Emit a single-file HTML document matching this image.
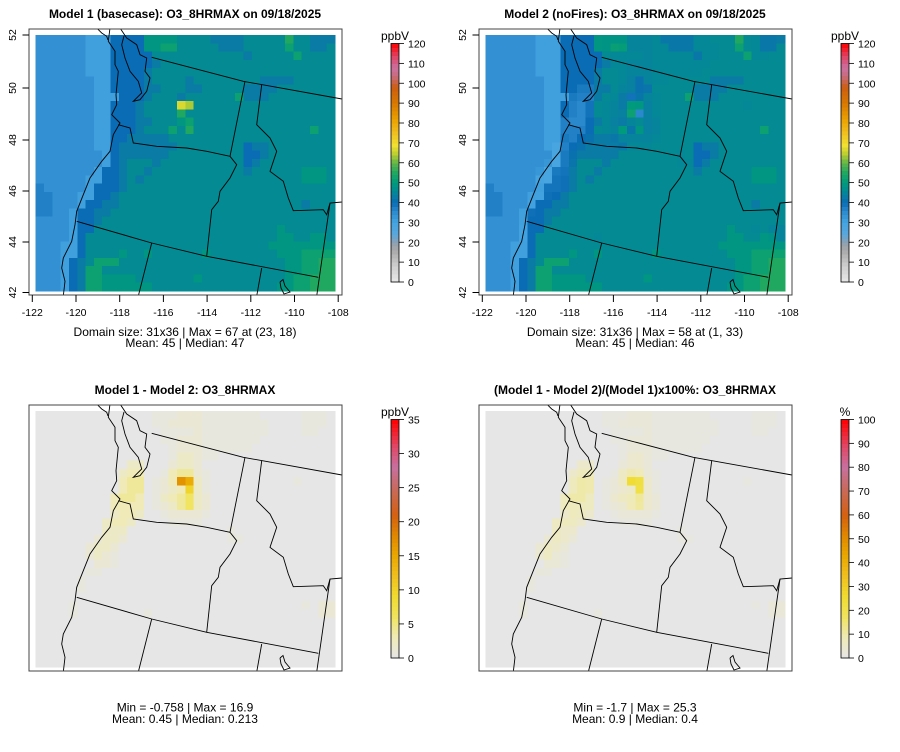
<!DOCTYPE html>
<html><head><meta charset="utf-8"><title>O3_8HRMAX comparison</title>
<style>
html,body{margin:0;padding:0;background:#fff;}
svg{display:block;font-family:"Liberation Sans",sans-serif;}
</style></head>
<body>
<svg id="fig" width="900" height="752" viewBox="0 0 900 752" xmlns="http://www.w3.org/2000/svg">
<rect width="900" height="752" fill="#fff"/>
</svg>
<script>
// ---- data: panel 1 (basecase) codes, value = 28 + 3*index in P1_KEYS
const P1_KEYS = "0123456789ABCD";
const p1Rows = [
"222222111444477776666555566666966555",
"222222111444477886666655566666866556",
"222222111444446666666666656666686666",
"222222111444445666666666666666666666",
"222222111444456666666666666666666666",
"222222211444456666566666666555566666",
"222222211444455666556666655556666666",
"222222211144456665666666855566666666",
"22222221144456666DC66666666666666666",
"222222211444566669666666666666666666",
"222222211444556667866666666666666666",
"222222211444566686966666666666666866",
"222222211445555566666666666666666666",
"222222211455555556666666645566666666",
"222222221455555566666666644566666666",
"222222221456665666666666645666666666",
"222222214456656666666666656666667776",
"222222114456566666666666666666667776",
"322222144456666666666666666666666666",
"332221144566666666666666666666666666",
"332221445566666666666666666666665666",
"332214455666666666666666666666666666",
"222214456666666666666666666666666666",
"222214466666666666666666666667666666",
"222214666666666666666666666667766776",
"222114666666666666666666666677777777",
"222114666676676666667666666667778888",
"222145688866666666666666666666778899",
"222145886666666666666666666666778899",
"222145887777666666676666666666788999",
"222145887777776666666666666667788999"
];
// ---- data: Model1 - Model2 difference codes
const DIFF_KEYS = "0123456789AB";
const diffLevels = [0,0.6,1.2,2,3,4,6,8,10,12,14.5,17];
const diffRows = [
"000000000000001112221111111000001110",
"000000000000001122221111111100001110",
"000000000000000111121111111100001100",
"000000000000000112221111111000000000",
"000000000000000012221111110000000000",
"000000000000000013321100000000000000",
"000000000003300023320000000000000000",
"000000000034400145521000000000000000",
"000000000045501244BA3100000000010000".replace("01244BA31","0124BA310"),
"000000000045501234831000000000000000",
"000000000455401345632000000000000000",
"000000000444401235632000000000000000",
"000000000344300122221000000000000000",
"000000003443000011110000000000000000",
"000000003330000000000001000000000000",
"000000023320000000000001100000000000",
"000000233200000000000000000000000000",
"000000232100000000000000000000000000",
"000000022100000000000000000000000000",
"000000110000000000000000000000000000",
"000001000000000000000000000000000000",
"000001000000000000000000000000000000",
"000000000000000000000000000000000000",
"000010000000000000000000000000001022",
"000010000000010000000000000000000022",
"000000000000000000000000000000000000",
"000000000000000000000000000000000000",
"000000000000000000000000000000000000",
"000000000000000000000000000000000000",
"000000000000000000000000000000000000",
"000000000000000000000000000000000000"
];
const xTickLabels = ["-122","-120","-118","-116","-114","-112","-110","-108"];
const yTickLabels = ["52","50","48","46","44","42"];
const cbTopLabels = [0,10,20,30,40,50,60,70,80,90,100,110,120];
const cbDiffLabels = [0,5,10,15,20,25,30,35];
const cbPctLabels = [0,10,20,30,40,50,60,70,80,90,100];

const NC = 36, NR = 31;
function decodeP1(){return p1Rows.map(r=>{const a=[];for(let c=0;c<NC;c++){const ch=r[Math.min(c,r.length-1)];a.push(28+3*Math.max(0,P1_KEYS.indexOf(ch)));}return a;});}
function decodeDiff(){return diffRows.map(r=>{const a=[];for(let c=0;c<NC;c++){const ch=r[Math.min(c,r.length-1)];a.push(diffLevels[Math.max(0,DIFF_KEYS.indexOf(ch))]);}return a;});}
const g1 = decodeP1();
const gd = decodeDiff();
const g2 = g1.map((row,r)=>row.map((v,c)=>v-gd[r][c]));
const g4 = g1.map((row,r)=>row.map((v,c)=>gd[r][c]/v*100));

function hex(h){return [parseInt(h.slice(1,3),16),parseInt(h.slice(3,5),16),parseInt(h.slice(5,7),16)];}
function makePal(stops){const s=stops.map(([v,c])=>[v,hex(c)]);return function(v){
  if(v<=s[0][0])return `rgb(${s[0][1]})`;
  for(let i=1;i<s.length;i++){if(v<=s[i][0]){const t=(v-s[i-1][0])/(s[i][0]-s[i-1][0]);const a=s[i-1][1],b=s[i][1];
   return `rgb(${Math.round(a[0]+(b[0]-a[0])*t)},${Math.round(a[1]+(b[1]-a[1])*t)},${Math.round(a[2]+(b[2]-a[2])*t)})`;}}
  return `rgb(${s[s.length-1][1]})`;};}
const palTop = makePal([[0,'#e8e8e8'],[8,'#cfcfcf'],[16,'#a8a8a8'],[20,'#8fa0b0'],[24,'#5aa8dc'],[30,'#44a4e0'],[36,'#2a88cc'],[40,'#0a6cb4'],[44,'#0880a0'],[47,'#008f8c'],[50,'#009a7c'],[55,'#20a860'],[60,'#60b448'],[65,'#c0d030'],[69,'#f0e030'],[75,'#f0c020'],[82,'#eaa000'],[90,'#d97800'],[98,'#cc5e10'],[104,'#c86a80'],[108,'#cc70a0'],[114,'#e04060'],[120,'#ff0000']]);
const diffStops=[[0,'#e6e6e6'],[3,'#efeab8'],[6,'#f0e460'],[9,'#f0dc30'],[12,'#f0c020'],[15,'#eaa800'],[18,'#e08800'],[21,'#d56010'],[25,'#c86a60'],[28,'#c870a0'],[31,'#e04868'],[35,'#ff0000']];
const palDiff = makePal(diffStops);
const palPct = makePal(diffStops.map(([v,c])=>[v*100/35,c]));

const svg=document.getElementById('fig');
const NS="http://www.w3.org/2000/svg";
function el(tag,attrs,parent){const e=document.createElementNS(NS,tag);for(const k in attrs)e.setAttribute(k,attrs[k]);(parent||svg).appendChild(e);return e;}
function txt(s,attrs,parent){const e=el('text',attrs,parent);e.textContent=s;return e;}

// axis functions (panel-relative)
const X0=35.7, Y0=35, W=299.3, H=256;
const cw=W/NC, ch=H/NR;
const xCell=c=>X0+c*cw, yCell=r=>Y0+r*ch;

// map outlines (pixel coords in panel-1 frame)
const coast=[[110,28],[108.3,41.3],[115,51.3],[115,64.7],[118.3,71.3],[116,94.7],[116.7,104.7],[111.7,114.7],[120,123],[113.3,134.7],[110,151.3],[101.7,161.3],[90,178],[83.3,194.7],[76.7,211.3],[75,224.7],[71.7,241.3],[63.3,258],[61.7,268],[65,281.3],[63.3,296]];
const puget=[[120,28],[126.7,38],[136.7,44.7],[140,54.7],[146.7,58],[145,71.3],[150,78],[146.7,91.3],[140,99.7],[133.3,101.3],[141.7,93],[138.3,81.3],[130,71.3],[125,58],[121.7,44.7],[124,36]];
const vanIsl=[[96.7,28],[101.7,33],[106.7,36.3],[108,40]];
const canada=[[151.7,57.3],[243.3,81.3],[342,99]];
const waid=[[245,81.3],[230,156.3]];
const snake=[[230,156.3],[236.7,164.7],[230,178],[220,191.3],[218.3,201.3],[211.7,209.7],[206.7,256.3]];
const columbia=[[118.3,124.7],[130,128],[133.3,143],[156.7,146.3],[186.7,148],[206.7,151.3],[230,156.3]];
const idmt=[[261.7,84.7],[256.7,124.7],[270,138],[276.7,151.3],[270,171.3],[283.3,181.3],[288.3,198],[293.3,210.7],[323.3,209.7],[326.7,214.7],[330,203],[342,202]];
const wy=[[330,203],[316.7,296]];
const lat42=[[76.7,221.3],[151.7,243],[206.7,256.3],[318.3,277.3]];
const canv=[[151.7,243],[138.3,296]];
const nvut=[[261.7,268],[256.7,296]];
const saltLake=[[280,282],[283,279.5],[285,286],[290,292],[284,294],[281,288],[280,282]];
const outlines=[["coastline",coast],["puget-sound",puget],["vancouver-island",vanIsl],["canada-border",canada],["wa-id-border",waid],["or-id-border",snake],["wa-or-border",columbia],["id-mt-border",idmt],["wy-border",wy],["southern-border",lat42],["ca-nv-border",canv],["nv-ut-border",nvut],["great-salt-lake",saltLake]];

function panel(name,dx,dy,grid,pal,title,stats,axes,cb){
  const g=el('g',{transform:`translate(${dx},${dy})`});
  
  
  const t=txt(title,{x:185,y:18,'text-anchor':'middle','font-size':'12','font-weight':'bold'},g);
  
  
  const cells=el('g',{'shape-rendering':'crispEdges'},g);
  
  
  for(let r=0;r<NR;r++)for(let c=0;c<NC;c++){
    const rc=el('rect',{x:xCell(c).toFixed(2),y:yCell(r).toFixed(2),width:(cw+0.6).toFixed(2),height:(ch+0.6).toFixed(2),fill:pal(grid[r][c])},cells);
    
    
  }
  const clipR=el('clipPath',{id:'clipFrame'+name},g);
  el('rect',{x:29,y:29,width:313,height:266},clipR);
  const mg=el('g',{'clip-path':'url(#clipFrame'+name+')',fill:'none',stroke:'#000','stroke-width':'0.9'},g);
  
  
  outlines.forEach(([n,pts])=>{const p=el('polyline',{points:pts.map(p=>p.join(',')).join(' ')},mg);});
  const fr=el('rect',{x:29,y:29,width:313,height:266,fill:'none',stroke:'#444','stroke-width':'1'},g);
  
  
  if(axes){
    const ax=el('g',{},g);
    
    
    xTickLabels.forEach((l,i)=>{const x=32.3+43.7*i;el('line',{x1:x,y1:295,x2:x,y2:302,stroke:'#000'},ax);const tl=txt(l,{x:x,y:316,'text-anchor':'middle','font-size':'10.5'},ax);});
    const ay=el('g',{},g);
    
    
    const ys=[35,88,140,191,242,292.5];
    yTickLabels.forEach((l,i)=>{const y=ys[i];el('line',{x1:22.5,y1:y,x2:29,y2:y,stroke:'#000'},ay);const tl=txt(l,{x:0,y:0,transform:`translate(16,${y}) rotate(-90)`,'text-anchor':'middle','font-size':'10.5'},ay);});
  }
  const sy=axes?[336,347]:[335.5,347];
  stats.forEach((s,i)=>{const st=txt(s,{x:185,y:sy[i],'text-anchor':'middle','font-size':'12'},g);});
  // colorbar
  const cg=el('g',{},g);
  
  
  const bx=391, bt=43.5, bb=282, n=60;
  for(let i=0;i<n;i++){const v0=cb.min+(cb.max-cb.min)*i/n;const y=bb-(bb-bt)*(i+1)/n;
    el('rect',{x:bx,y:y.toFixed(2),width:8,height:((bb-bt)/n+0.5).toFixed(2),fill:cb.pal(v0+(cb.max-cb.min)/(2*n)),'shape-rendering':'crispEdges'},cg);}
  el('rect',{x:bx,y:bt,width:8,height:bb-bt,fill:'none',stroke:'#000','stroke-width':'0.8'},cg);
  cb.labels.forEach(v=>{const y=bb-(bb-bt)*(v-cb.min)/(cb.max-cb.min);el('line',{x1:bx+8,y1:y,x2:bx+13,y2:y,stroke:'#000','stroke-width':'0.8'},cg);
    const tl=txt(String(v),{x:bx+17,y:y+4,'font-size':'10.5'},cg);});
  const u=txt(cb.unit,{x:bx+4,y:40,'text-anchor':'middle','font-size':'12'},cg);
  
  
}
panel('panel-model1',0,0,g1,palTop,'Model 1 (basecase): O3_8HRMAX on 09/18/2025',['Domain size: 31x36 | Max = 67 at (23, 18)','Mean: 45 |  Median: 47'],true,{min:0,max:120,pal:palTop,labels:cbTopLabels,unit:'ppbV'});
panel('panel-model2',450,0,g2,palTop,'Model 2 (noFires): O3_8HRMAX on 09/18/2025',['Domain size: 31x36 | Max = 58 at (1, 33)','Mean: 45 |  Median: 46'],true,{min:0,max:120,pal:palTop,labels:cbTopLabels,unit:'ppbV'});
panel('panel-difference',0,376,gd,palDiff,'Model 1 - Model 2: O3_8HRMAX',['Min = -0.758 | Max = 16.9','Mean: 0.45 |  Median: 0.213'],false,{min:0,max:35,pal:palDiff,labels:cbDiffLabels,unit:'ppbV'});
panel('panel-percent-difference',450,376,g4,palPct,'(Model 1 - Model 2)/(Model 1)x100%: O3_8HRMAX',['Min = -1.7 | Max = 25.3','Mean: 0.9 |  Median: 0.4'],false,{min:0,max:100,pal:palPct,labels:cbPctLabels,unit:'%'});
</script>
</body></html>
